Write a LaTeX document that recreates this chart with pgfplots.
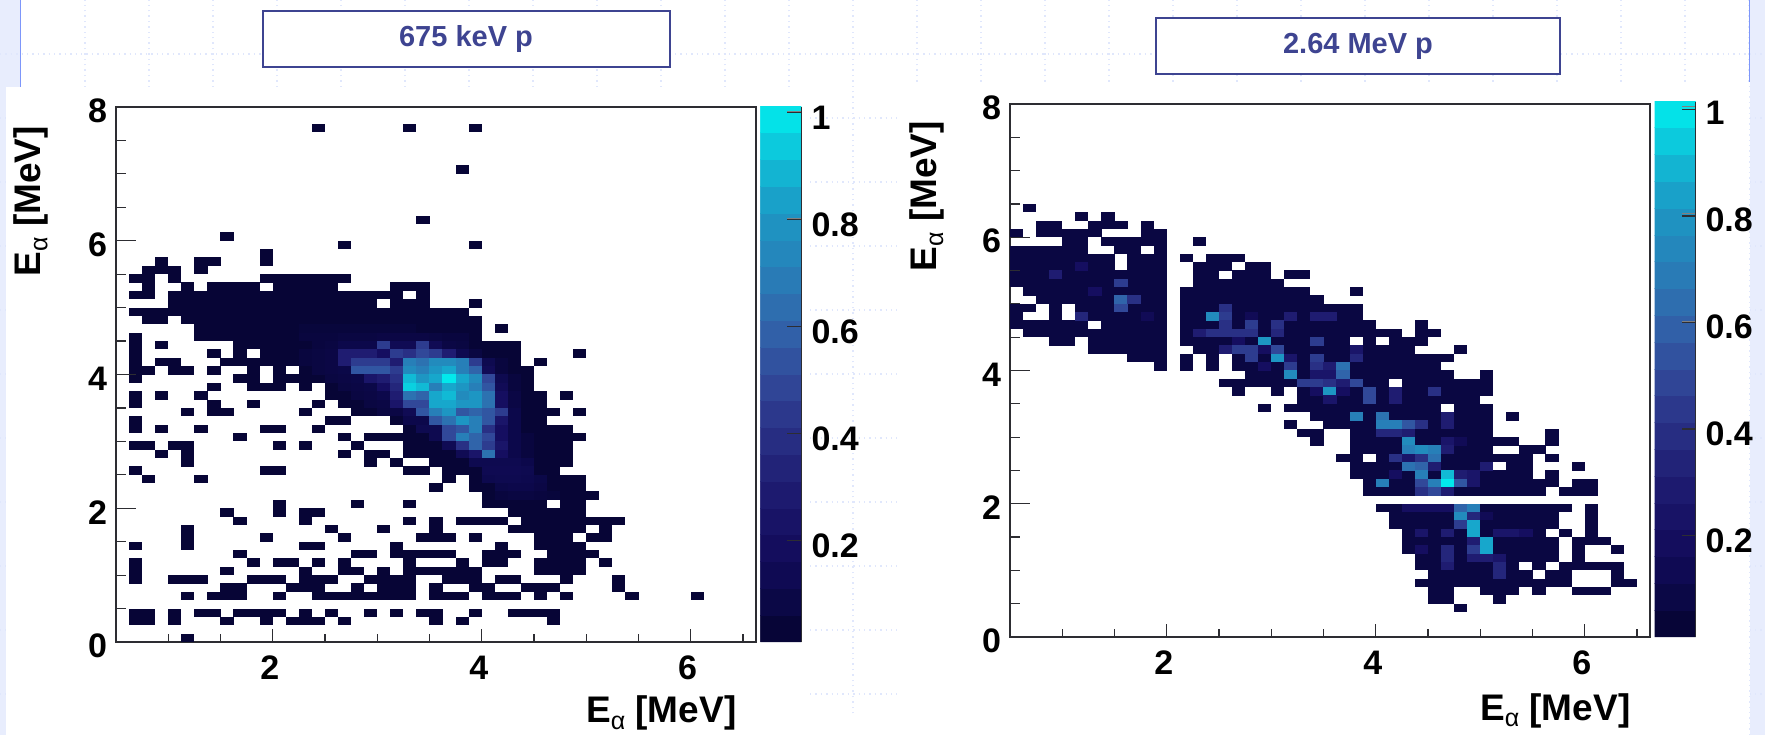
\documentclass[border=0pt]{standalone}
\usepackage{fontspec}
\setmainfont{Liberation Sans}
\usepackage{pgfplots}
\pgfplotsset{compat=1.18}
\definecolor{boxc}{RGB}{62,68,145}
\definecolor{pale}{RGB}{232,237,253}
\definecolor{gridc}{RGB}{224,231,252}
\definecolor{bluel}{RGB}{125,150,250}
\definecolor{axc}{RGB}{45,45,50}
\pgfdeclareplotmark{cell}{\pgfpathrectangle{\pgfpoint{-3.3pt}{-2.12pt}}{\pgfpoint{6.6pt}{4.24pt}}\pgfusepathqfill}
\newcommand{\tickfont}{\bfseries\fontsize{17}{17}\selectfont}
\newcommand{\Ealpha}{\bfseries\fontsize{18.5}{18.5}\selectfont E\raisebox{-.35ex}{\mdseries\fontsize{12.5}{12.5}\selectfont α} [MeV]}
\pgfplotsset{
  colormap={rootcm}{rgb255(0pt)=(5,4,48);rgb255(10pt)=(13,9,78);rgb255(20pt)=(22,15,98);rgb255(30pt)=(32,30,115);rgb255(40pt)=(42,50,135);rgb255(50pt)=(50,75,155);rgb255(60pt)=(48,103,172);rgb255(70pt)=(38,130,185);rgb255(80pt)=(28,152,196);rgb255(90pt)=(16,190,215);rgb255(100pt)=(0,238,238)},
  heat/.style={scale only axis, width=320pt, height=267pt, xmin=0.5, xmax=6.625, ymin=0, ymax=8,
    colormap name=rootcm, point meta min=0.01, point meta max=1.01,
    x filter/.expression={x*0.125+0.5625}, y filter/.expression={y*0.125+0.0625},
    xtick={2,4,6}, minor xtick={1,1.5,2.5,3,3.5,4.5,5,5.5,6.5},
    ytick={0,2,4,6,8}, yticklabels={0,2,4,6,8}, 
    tick pos=left, tick align=inside, major tick length=6.5pt, minor tick length=4pt,
    y tick style={draw=none}, x tick style={axc,line width=.6pt},
    axis line style={axc,line width=.8pt},
    /pgf/number format/assume math mode=true,
    ticklabel style={font=\tickfont,black},
    yticklabel style={xshift=-1pt,yshift=-2pt}, xticklabel style={yshift=-3.5pt,xshift=-1.5pt},
    clip=false,
    colorbar sampled,
    colorbar style={samples=21, scale only axis, width=20.5pt, height=268pt, at={(1.007,0)}, anchor=south west,
      ytick={0.2,0.4,0.6,0.8,1}, yticklabels={0.2,0.4,0.6,0.8,1}, xtick=\empty, ytick pos=right, yticklabel pos=right, tick align=inside,
      major tick length=7pt,
      axis x line=none, axis y line*=right, y axis line style={draw=none},
      yticklabel style={xshift=1.5pt,yshift=-3pt}, ylabel={}, xlabel={}},
  },
  ovl/.style={scale only axis, width=320pt, height=267pt, xmin=0.5, xmax=6.625, ymin=0, ymax=8,
    xtick=\empty, ytick={0,2,4,6,8}, minor ytick={0.5,1,1.5,2.5,3,3.5,4.5,5,5.5,6.5,7,7.5},
    yticklabels={}, axis line style={draw=none}, tick pos=left, tick align=inside,
    major tick length=10pt, minor tick length=5pt, tick style={axc,line width=.6pt}},
  cbticks/.style={scale only axis, width=20.5pt, xmin=0, xmax=1, ymin=0.01, ymax=1.01,
    xtick=\empty, ytick={0.2,0.4,0.6,0.8,1}, yticklabels={}, axis line style={draw=none},
    tick pos=right, tick align=inside, major tick length=7pt, tick style={axc,line width=.7pt}},
  cellp/.style={scatter, only marks, mark=cell, scatter/use mapped color={draw=none,fill=mapped color}},
}
\begin{document}
\begin{tikzpicture}[x=.5pt,y=.5pt]
\path[use as bounding box] (0,0) rectangle (1765,735);
\fill[white] (0,0) rectangle (1765,735);
\fill[pale] (0,647) rectangle (20,735);
\fill[pale] (0,0) rectangle (6,648);
\fill[pale] (1750,0) rectangle (1765,735);
\foreach \xx in {85,149,...,1765} {\draw[gridc,line width=.7pt,dotted] (\xx,0) -- (\xx,735);}
\foreach \yy in {41,105,...,681} {\draw[gridc,line width=.7pt,dotted] (0,\yy) -- (1765,\yy);}
\fill[white] (6,0) rectangle (806,648);
\fill[white] (897,0) rectangle (1749,653);
\fill[white] (806,0) rectangle (897,20);
\draw[bluel,line width=.9pt] (20.5,648) -- (20.5,735);
\draw[bluel,line width=.9pt] (1749.5,653) -- (1749.5,735);
\draw[boxc,line width=.75pt,fill=white] (263,724) rectangle (670,668);
\draw[boxc,line width=.75pt,fill=white] (1156,717) rectangle (1560,661);
\node[text=boxc,font=\bfseries\fontsize{14.5}{14.5}\selectfont] at (466,696) {675 keV p};
\node[text=boxc,font=\bfseries\fontsize{14.5}{14.5}\selectfont] at (1358,689) {2.64 MeV p};

\begin{axis}[heat, at={(58pt,46.5pt)}, anchor=south west, width=320pt, height=267.5pt,
  xlabel={\Ealpha}, ylabel={\Ealpha},
  every axis x label/.style={at={(axis description cs:0.852,-0.132)},anchor=center},
  every axis y label/.style={at={(axis description cs:-0.133,0.824)},rotate=90,anchor=center}]
\addplot[cellp, point meta=0.03] coordinates {
(15,61)(22,61)(27,61)
(26,56)
(23,50)
(8,48)
(17,47)(27,47)
(11,46)
(3,45)(6,45)(7,45)(11,45)
(2,44)(3,44)(4,44)(6,44)
(1,43)(2,43)(4,43)(11,43)(12,43)(13,43)(14,43)(15,43)(16,43)(17,43)
(2,42)(5,42)(7,42)(8,42)(9,42)(10,42)(12,42)(13,42)(14,42)(15,42)(16,42)(21,42)(22,42)(23,42)
(1,41)(2,41)(4,41)(5,41)(6,41)(7,41)(8,41)(9,41)(10,41)(11,41)(12,41)(13,41)(14,41)(15,41)(16,41)(17,41)(18,41)(19,41)(20,41)(21,41)(23,41)
(4,40)(5,40)(6,40)(7,40)(8,40)(9,40)(10,40)(11,40)(12,40)(13,40)(14,40)(15,40)(16,40)(17,40)(18,40)(19,40)(21,40)(22,40)(23,40)(27,40)
(1,39)(2,39)(3,39)(4,39)(5,39)(6,39)(7,39)(8,39)(9,39)(10,39)(11,39)(12,39)(13,39)(14,39)(15,39)(16,39)(17,39)(18,39)(19,39)(20,39)(21,39)(22,39)(23,39)(24,39)(25,39)(26,39)
(2,38)(3,38)(5,38)(6,38)(7,38)(8,38)(9,38)(10,38)(11,38)(12,38)(13,38)(14,38)(15,38)(16,38)(17,38)(18,38)(19,38)(20,38)(21,38)(22,38)(23,38)(24,38)(25,38)(26,38)(27,38)
(6,37)(7,37)(8,37)(9,37)(10,37)(11,37)(12,37)(13,37)(14,37)(15,37)(16,37)(17,37)(18,37)(19,37)(20,37)(21,37)(22,37)(23,37)(24,37)(25,37)(26,37)(27,37)(29,37)
(1,36)(6,36)(7,36)(8,36)(9,36)(10,36)(11,36)(12,36)(13,36)(14,36)(15,36)(16,36)(17,36)(18,36)(19,36)(20,36)(21,36)(22,36)(23,36)(24,36)(25,36)(26,36)(27,36)
(1,35)(3,35)(9,35)(10,35)(11,35)(12,35)(13,35)(14,35)(15,35)(16,35)(17,35)(18,35)(19,35)(20,35)(21,35)(22,35)(23,35)(24,35)(25,35)(26,35)(27,35)(28,35)(29,35)(30,35)
(1,34)(7,34)(9,34)(11,34)(12,34)(13,34)(14,34)(15,34)(16,34)(17,34)(18,34)(19,34)(20,34)(21,34)(22,34)(23,34)(24,34)(25,34)(26,34)(27,34)(28,34)(29,34)(30,34)(35,34)
(1,33)(3,33)(4,33)(8,33)(9,33)(10,33)(11,33)(12,33)(13,33)(14,33)(15,33)(16,33)(17,33)(18,33)(19,33)(20,33)(21,33)(22,33)(23,33)(24,33)(25,33)(26,33)(27,33)(28,33)(29,33)(30,33)(32,33)
(1,32)(2,32)(4,32)(5,32)(7,32)(10,32)(12,32)(14,32)(15,32)(16,32)(17,32)(18,32)(19,32)(20,32)(21,32)(22,32)(23,32)(24,32)(25,32)(26,32)(27,32)(28,32)(29,32)(30,32)(31,32)
(1,31)(9,31)(10,31)(12,31)(13,31)(14,31)(15,31)(16,31)(17,31)(18,31)(19,31)(20,31)(21,31)(22,31)(23,31)(24,31)(25,31)(26,31)(27,31)(28,31)(29,31)(30,31)(31,31)
(7,30)(10,30)(11,30)(12,30)(14,30)(16,30)(17,30)(18,30)(19,30)(20,30)(21,30)(22,30)(23,30)(24,30)(25,30)(26,30)(27,30)(28,30)(29,30)(30,30)(31,30)
(1,29)(3,29)(6,29)(16,29)(17,29)(18,29)(19,29)(20,29)(21,29)(22,29)(23,29)(24,29)(25,29)(26,29)(27,29)(28,29)(29,29)(30,29)(31,29)(32,29)(34,29)
(1,28)(7,28)(10,28)(15,28)(17,28)(18,28)(19,28)(20,28)(21,28)(22,28)(23,28)(24,28)(25,28)(26,28)(27,28)(28,28)(29,28)(30,28)(31,28)(32,28)
(5,27)(7,27)(8,27)(14,27)(18,27)(19,27)(20,27)(21,27)(22,27)(23,27)(24,27)(25,27)(26,27)(27,27)(28,27)(29,27)(30,27)(31,27)(32,27)(33,27)(35,27)
(1,26)(16,26)(17,26)(21,26)(22,26)(23,26)(24,26)(25,26)(26,26)(27,26)(28,26)(29,26)(30,26)(31,26)(32,26)
(1,25)(3,25)(6,25)(11,25)(12,25)(15,25)(22,25)(23,25)(24,25)(25,25)(26,25)(27,25)(28,25)(29,25)(30,25)(31,25)(32,25)(33,25)(34,25)
(9,24)(17,24)(19,24)(20,24)(21,24)(22,24)(23,24)(24,24)(25,24)(26,24)(27,24)(28,24)(29,24)(30,24)(31,24)(32,24)(33,24)(34,24)(35,24)
(1,23)(2,23)(4,23)(5,23)(12,23)(14,23)(18,23)(22,23)(23,23)(24,23)(25,23)(26,23)(27,23)(28,23)(29,23)(30,23)(31,23)(32,23)(33,23)(34,23)
(3,22)(5,22)(17,22)(19,22)(20,22)(22,22)(23,22)(24,22)(25,22)(26,22)(27,22)(28,22)(29,22)(30,22)(31,22)(32,22)(33,22)(34,22)
(5,21)(19,21)(21,21)(24,21)(25,21)(26,21)(27,21)(28,21)(29,21)(30,21)(31,21)(32,21)(33,21)(34,21)
(1,20)(11,20)(12,20)(22,20)(23,20)(25,20)(26,20)(27,20)(28,20)(29,20)(30,20)(31,20)(32,20)(33,20)
(2,19)(6,19)(25,19)(27,19)(28,19)(29,19)(30,19)(31,19)(32,19)(33,19)(34,19)(35,19)
(24,18)(27,18)(28,18)(29,18)(30,18)(31,18)(32,18)(33,18)(34,18)(35,18)
(28,17)(29,17)(30,17)(31,17)(32,17)(33,17)(34,17)(35,17)(36,17)
(12,16)(18,16)(22,16)(28,16)(29,16)(30,16)(31,16)(32,16)(34,16)(35,16)
(8,15)(12,15)(14,15)(15,15)(30,15)(31,15)(32,15)(33,15)(34,15)(35,15)
(9,14)(14,14)(22,14)(24,14)(26,14)(27,14)(28,14)(29,14)(31,14)(32,14)(33,14)(34,14)(35,14)(36,14)(37,14)(38,14)
(5,13)(16,13)(20,13)(24,13)(30,13)(31,13)(32,13)(33,13)(34,13)(35,13)(37,13)
(5,12)(11,12)(17,12)(23,12)(24,12)(25,12)(27,12)(32,12)(33,12)(34,12)(36,12)(37,12)
(1,11)(5,11)(14,11)(15,11)(21,11)(29,11)(32,11)(33,11)(34,11)(35,11)
(9,10)(18,10)(19,10)(21,10)(22,10)(23,10)(24,10)(25,10)(28,10)(29,10)(30,10)(33,10)(34,10)(35,10)(36,10)
(1,9)(10,9)(12,9)(13,9)(15,9)(17,9)(22,9)(26,9)(28,9)(29,9)(32,9)(33,9)(34,9)(35,9)(37,9)
(1,8)(8,8)(14,8)(17,8)(18,8)(20,8)(22,8)(23,8)(24,8)(25,8)(26,8)(27,8)(32,8)(33,8)(34,8)(35,8)
(1,7)(4,7)(5,7)(6,7)(10,7)(11,7)(12,7)(14,7)(15,7)(16,7)(19,7)(20,7)(21,7)(22,7)(25,7)(26,7)(27,7)(29,7)(30,7)(34,7)(38,7)
(8,6)(9,6)(13,6)(14,6)(15,6)(18,6)(20,6)(21,6)(22,6)(24,6)(27,6)(28,6)(31,6)(32,6)(33,6)(38,6)
(5,5)(7,5)(8,5)(9,5)(12,5)(15,5)(16,5)(17,5)(18,5)(19,5)(20,5)(21,5)(22,5)(24,5)(25,5)(26,5)(28,5)(29,5)(30,5)(32,5)(34,5)(39,5)(44,5)
(1,3)(2,3)(4,3)(6,3)(7,3)(9,3)(10,3)(11,3)(12,3)(14,3)(16,3)(19,3)(21,3)(23,3)(24,3)(27,3)(30,3)(31,3)(32,3)(33,3)
(1,2)(2,2)(4,2)(8,2)(11,2)(13,2)(14,2)(15,2)(17,2)(24,2)(26,2)(33,2)
(5,0)
};
\addplot[cellp, point meta=explicit] coordinates {
(14,37)[.05](15,37)[.05](16,37)[.05](17,37)[.05](18,37)[.05](19,37)[.05](20,37)[.05](21,37)[.05](22,37)[.05]
(14,36)[.06](15,36)[.06](16,36)[.06](17,36)[.07](18,36)[.07](19,36)[.07](20,36)[.08](21,36)[.08](22,36)[.08](23,36)[.08](24,36)[.07](25,36)[.06](26,36)[.06]
(15,35)[.06](16,35)[.07](17,35)[.1](18,35)[.1](19,35)[.1](20,35)[.45](21,35)[.14](22,35)[.14](23,35)[.45](24,35)[.14](25,35)[.08](26,35)[.07]
(14,34)[.06](15,34)[.07](16,34)[.08](17,34)[.3](18,34)[.3](19,34)[.3](20,34)[.2](21,34)[.45](22,34)[.4](23,34)[.5](24,34)[.45](25,34)[.3](26,34)[.12](27,34)[.07]
(14,33)[.06](15,33)[.07](16,33)[.08](17,33)[.3](18,33)[.45](19,33)[.45](20,33)[.45](21,33)[.3](22,33)[.7](23,33)[.65](24,33)[.75](25,33)[.75](26,33)[.7](27,33)[.45](28,33)[.12](29,33)[.06]
(15,32)[.07](16,32)[.08](17,32)[.09](18,32)[.55](19,32)[.55](20,32)[.55](21,32)[.45](22,32)[.75](23,32)[.7](24,32)[.8](25,32)[.85](26,32)[.7](27,32)[.6](28,32)[.15](29,32)[.06]
(16,31)[.07](17,31)[.08](18,31)[.09](19,31)[.25](20,31)[.3](21,31)[.4](22,31)[.9](23,31)[.8](24,31)[.85](25,31)[1](26,31)[.85](27,31)[.75](28,31)[.5](29,31)[.12](30,31)[.06]
(17,30)[.07](18,30)[.08](19,30)[.09](20,30)[.2](21,30)[.35](22,30)[.95](23,30)[.9](24,30)[.7](25,30)[.85](26,30)[.8](27,30)[.7](28,30)[.55](29,30)[.15](30,30)[.06]
(18,29)[.07](19,29)[.08](20,29)[.1](21,29)[.3](22,29)[.65](23,29)[.6](24,29)[.85](25,29)[.9](26,29)[.75](27,29)[.8](28,29)[.65](29,29)[.2](30,29)[.08]
(19,28)[.07](20,28)[.08](21,28)[.25](22,28)[.5](23,28)[.5](24,28)[.85](25,28)[.85](26,28)[.8](27,28)[.8](28,28)[.65](29,28)[.2](30,28)[.08]
(20,27)[.07](21,27)[.08](22,27)[.14](23,27)[.55](24,27)[.7](25,27)[.8](26,27)[.55](27,27)[.6](28,27)[.55](29,27)[.45](30,27)[.1]
(22,26)[.1](23,26)[.1](24,26)[.55](25,26)[.65](26,26)[.8](27,26)[.7](28,26)[.55](29,26)[.25](30,26)[.1]
(23,25)[.12](24,25)[.12](25,25)[.5](26,25)[.55](27,25)[.7](28,25)[.4](29,25)[.2](30,25)[.1]
(24,24)[.12](25,24)[.5](26,24)[.7](27,24)[.6](28,24)[.5](29,24)[.2](30,24)[.1](31,24)[.06]
(25,23)[.14](26,23)[.4](27,23)[.6](28,23)[.45](29,23)[.25](30,23)[.1](31,23)[.06]
(26,22)[.14](27,22)[.25](28,22)[.65](29,22)[.2](30,22)[.1](31,22)[.06]
(27,21)[.12](28,21)[.12](29,21)[.12](30,21)[.12](31,21)[.1]
(28,20)[.13](29,20)[.13](30,20)[.13](31,20)[.12]
(28,19)[.11](29,19)[.12](30,19)[.12](31,19)[.11](32,19)[.09]
(29,18)[.09](30,18)[.1](31,18)[.1](32,18)[.08]
(29,17)[.06](30,17)[.07](31,17)[.07](32,17)[.06](33,17)[.05]
};
\end{axis}
\begin{axis}[ovl, at={(58pt,46.5pt)}, anchor=south west, width=320pt, height=267.5pt]
\end{axis}
\begin{axis}[cbticks, at={(380.24pt,46.5pt)}, anchor=south west, height=267.5pt]
\end{axis}
\draw[axc,line width=.6pt] (801.5,93) -- (801.5,628);

\begin{axis}[heat, at={(505pt,49pt)}, anchor=south west, width=320pt, height=266.5pt,
  xlabel={\Ealpha}, ylabel={\Ealpha},
  every axis x label/.style={at={(axis description cs:0.852,-0.138)},anchor=center},
  every axis y label/.style={at={(axis description cs:-0.13,0.827)},rotate=90,anchor=center}]
\addplot[cellp, point meta=0.07] coordinates {
(1,51)
(5,50)(7,50)
(2,49)(3,49)(6,49)(7,49)(8,49)(10,49)
(0,48)(2,48)(3,48)(4,48)(5,48)(6,48)(10,48)(11,48)
(4,47)(5,47)(7,47)(8,47)(9,47)(10,47)(11,47)(14,47)
(0,46)(1,46)(2,46)(3,46)(4,46)(5,46)(8,46)(9,46)(11,46)
(0,45)(1,45)(2,45)(3,45)(4,45)(5,45)(6,45)(7,45)(9,45)(10,45)(11,45)(13,45)(15,45)(16,45)(17,45)
(0,44)(1,44)(2,44)(3,44)(4,44)(5,44)(6,44)(7,44)(9,44)(10,44)(11,44)(14,44)(15,44)(16,44)(18,44)(19,44)
(0,43)(1,43)(2,43)(3,43)(4,43)(5,43)(6,43)(7,43)(8,43)(9,43)(10,43)(11,43)(14,43)(15,43)(17,43)(18,43)(19,43)(21,43)(22,43)
(0,42)(1,42)(2,42)(3,42)(4,42)(5,42)(6,42)(7,42)(8,42)(9,42)(10,42)(11,42)(14,42)(15,42)(16,42)(17,42)(18,42)(19,42)(20,42)
(1,41)(2,41)(3,41)(4,41)(5,41)(6,41)(7,41)(8,41)(9,41)(10,41)(11,41)(13,41)(14,41)(15,41)(16,41)(17,41)(18,41)(19,41)(20,41)(21,41)(22,41)(26,41)
(2,40)(3,40)(4,40)(5,40)(6,40)(7,40)(8,40)(9,40)(10,40)(11,40)(13,40)(14,40)(15,40)(16,40)(17,40)(18,40)(19,40)(20,40)(21,40)(22,40)(23,40)
(0,39)(1,39)(3,39)(5,39)(6,39)(7,39)(8,39)(9,39)(10,39)(11,39)(13,39)(14,39)(15,39)(16,39)(17,39)(18,39)(19,39)(20,39)(21,39)(22,39)(23,39)(24,39)(25,39)(26,39)
(0,38)(3,38)(5,38)(6,38)(7,38)(8,38)(9,38)(10,38)(11,38)(13,38)(14,38)(15,38)(16,38)(17,38)(18,38)(19,38)(20,38)(21,38)(22,38)(23,38)(24,38)(25,38)(26,38)
(0,37)(1,37)(2,37)(3,37)(4,37)(5,37)(7,37)(8,37)(9,37)(10,37)(11,37)(13,37)(14,37)(15,37)(16,37)(17,37)(18,37)(19,37)(20,37)(21,37)(22,37)(23,37)(24,37)(25,37)(26,37)(27,37)(31,37)
(1,36)(2,36)(3,36)(4,36)(5,36)(6,36)(7,36)(8,36)(9,36)(10,36)(11,36)(13,36)(14,36)(15,36)(16,36)(17,36)(18,36)(19,36)(20,36)(21,36)(22,36)(23,36)(24,36)(25,36)(26,36)(27,36)(28,36)(29,36)(31,36)(32,36)
(3,35)(4,35)(6,35)(7,35)(8,35)(9,35)(10,35)(11,35)(13,35)(14,35)(15,35)(16,35)(17,35)(18,35)(19,35)(20,35)(21,35)(22,35)(23,35)(24,35)(25,35)(27,35)(29,35)(30,35)(31,35)
(6,34)(7,34)(8,34)(9,34)(10,34)(11,34)(14,34)(15,34)(16,34)(17,34)(18,34)(19,34)(20,34)(21,34)(22,34)(23,34)(24,34)(25,34)(26,34)(27,34)(28,34)(29,34)(30,34)(34,34)
(9,33)(10,33)(11,33)(13,33)(15,33)(17,33)(18,33)(19,33)(20,33)(21,33)(22,33)(23,33)(24,33)(25,33)(26,33)(27,33)(28,33)(29,33)(30,33)(31,33)(32,33)(33,33)
(11,32)(13,32)(15,32)(17,32)(18,32)(19,32)(20,32)(21,32)(22,32)(23,32)(24,32)(25,32)(26,32)(27,32)(28,32)(29,32)(30,32)(31,32)(32,32)
(18,31)(19,31)(20,31)(21,31)(22,31)(23,31)(24,31)(25,31)(26,31)(27,31)(28,31)(29,31)(30,31)(31,31)(32,31)(33,31)(36,31)
(16,30)(17,30)(18,30)(19,30)(20,30)(21,30)(22,30)(23,30)(24,30)(25,30)(26,30)(27,30)(28,30)(30,30)(31,30)(32,30)(33,30)(34,30)(35,30)(36,30)
(17,29)(20,29)(22,29)(23,29)(24,29)(25,29)(26,29)(27,29)(28,29)(29,29)(30,29)(31,29)(32,29)(33,29)(34,29)(35,29)(36,29)
(22,28)(23,28)(24,28)(25,28)(26,28)(27,28)(28,28)(29,28)(30,28)(31,28)(32,28)(33,28)(34,28)(35,28)
(19,27)(21,27)(22,27)(23,27)(24,27)(25,27)(26,27)(27,27)(28,27)(29,27)(30,27)(31,27)(32,27)(34,27)(35,27)(36,27)
(23,26)(24,26)(25,26)(26,26)(27,26)(28,26)(29,26)(30,26)(31,26)(32,26)(33,26)(34,26)(35,26)(36,26)(38,26)
(21,25)(24,25)(25,25)(26,25)(27,25)(28,25)(29,25)(30,25)(31,25)(32,25)(33,25)(34,25)(35,25)(36,25)
(22,24)(23,24)(26,24)(27,24)(28,24)(29,24)(30,24)(31,24)(32,24)(33,24)(34,24)(35,24)(36,24)(41,24)
(23,23)(26,23)(27,23)(28,23)(29,23)(30,23)(31,23)(32,23)(33,23)(34,23)(35,23)(36,23)(37,23)(38,23)(41,23)
(26,22)(27,22)(28,22)(29,22)(30,22)(31,22)(32,22)(33,22)(34,22)(35,22)(36,22)(39,22)(40,22)
(25,21)(26,21)(28,21)(29,21)(30,21)(31,21)(32,21)(33,21)(34,21)(35,21)(36,21)(37,21)(38,21)(39,21)(41,21)
(26,20)(27,20)(28,20)(29,20)(30,20)(31,20)(32,20)(33,20)(34,20)(35,20)(36,20)(38,20)(39,20)(43,20)
(26,19)(27,19)(28,19)(29,19)(30,19)(31,19)(32,19)(33,19)(34,19)(35,19)(36,19)(37,19)(38,19)(39,19)(41,19)
(27,18)(28,18)(29,18)(30,18)(31,18)(32,18)(33,18)(34,18)(35,18)(36,18)(37,18)(38,18)(39,18)(40,18)(41,18)(43,18)(44,18)
(27,17)(28,17)(29,17)(30,17)(31,17)(32,17)(33,17)(34,17)(35,17)(36,17)(37,17)(38,17)(39,17)(40,17)(42,17)(43,17)(44,17)
(28,15)(29,15)(30,15)(31,15)(32,15)(33,15)(34,15)(35,15)(36,15)(37,15)(38,15)(39,15)(40,15)(41,15)(42,15)(44,15)
(29,14)(30,14)(31,14)(32,14)(33,14)(34,14)(35,14)(36,14)(37,14)(38,14)(39,14)(40,14)(41,14)(44,14)
(29,13)(30,13)(31,13)(32,13)(33,13)(34,13)(35,13)(36,13)(37,13)(38,13)(39,13)(40,13)(41,13)(44,13)
(30,12)(31,12)(32,12)(33,12)(34,12)(35,12)(36,12)(37,12)(38,12)(39,12)(40,12)(42,12)(44,12)
(30,11)(31,11)(32,11)(33,11)(34,11)(35,11)(36,11)(37,11)(38,11)(39,11)(40,11)(41,11)(43,11)(44,11)(45,11)
(30,10)(31,10)(32,10)(33,10)(34,10)(35,10)(36,10)(37,10)(38,10)(39,10)(40,10)(41,10)(43,10)(46,10)
(31,9)(32,9)(33,9)(34,9)(35,9)(36,9)(37,9)(38,9)(39,9)(40,9)(41,9)(43,9)
(31,8)(32,8)(33,8)(34,8)(35,8)(36,8)(37,8)(38,8)(40,8)(42,8)(43,8)(44,8)(45,8)(46,8)
(32,7)(33,7)(34,7)(35,7)(36,7)(37,7)(38,7)(39,7)(41,7)(42,7)(46,7)
(31,6)(32,6)(33,6)(34,6)(35,6)(36,6)(37,6)(38,6)(39,6)(40,6)(41,6)(42,6)(46,6)(47,6)
(32,5)(33,5)(36,5)(37,5)(38,5)(40,5)(43,5)(44,5)(45,5)
(32,4)(33,4)(37,4)
(34,3)
};
\addplot[cellp, point meta=explicit] coordinates {
(5,44)[.2](3,43)[.3](8,42)[.45](6,41)[.2](8,40)[.6](9,40)[.4](8,39)[.5](16,39)[.4]
(5,38)[.35](10,38)[.15](15,38)[.75](16,38)[.45](18,38)[.15](21,38)[.3](23,38)[.3](24,38)[.3]
(16,37)[.4](18,37)[.45](20,37)[.4]
(14,36)[.3](15,36)[.4](16,36)[.4](17,36)[.4](18,36)[.4](20,36)[.35]
(17,35)[.2](19,35)[.8](23,35)[.45]
(16,34)[.3](17,34)[.45](18,34)[.45](19,34)[.2](20,34)[.5](26,34)[.25]
(18,33)[.45](20,33)[.8](21,33)[.25](23,33)[.45](26,33)[.35]
(19,32)[.2](21,32)[.45](23,32)[.4](24,32)[.3](25,32)[.65]
(21,31)[.75](23,31)[.25](24,31)[.25](25,31)[.6]
(22,30)[.45](23,30)[.45](24,30)[.4](25,30)[.3](26,30)[.5]
(23,29)[.2](24,29)[.8](25,29)[.2](27,29)[.5](29,29)[.3](32,29)[.4]
(24,28)[.25](27,28)[.5](29,28)[.3]
(26,26)[.7](28,26)[.65](33,26)[.3]
(28,25)[.7](29,25)[.7](30,25)[.55](31,25)[.4](33,25)[.3]
(28,24)[.35](29,24)[.35](30,24)[.3]
(30,23)[.75](33,23)[.25](34,23)[.15]
(30,22)[.7](31,22)[.75](32,22)[.7](33,22)[.3]
(29,21)[.4](30,21)[.25](31,21)[.4](32,21)[.65]
(30,20)[.65](31,20)[.6](32,20)[.3](36,20)[.3]
(29,19)[.2](31,19)[.7](33,19)[.9](34,19)[.3](35,19)[.25]
(28,18)[.7](31,18)[.5](32,18)[.7](33,18)[1](34,18)[.55](35,18)[.25]
(31,17)[.4](32,17)[.5](33,17)[.3]
(30,15)[.2](31,15)[.2](32,15)[.2](33,15)[.2](34,15)[.6](35,15)[.7]
(34,14)[.75](35,14)[.35](36,14)[.15]
(34,13)[.45](35,13)[.85]
(31,12)[.25](33,12)[.3](35,12)[.85](37,12)[.25](38,12)[.25](39,12)[.2]
(35,11)[.3](36,11)[.85]
(31,10)[.2](33,10)[.35](35,10)[.45](36,10)[.85]
(33,9)[.35](35,9)[.3](36,9)[.3](37,9)[.25]
(33,8)[.3](37,8)[.35]
(37,7)[.35]
};
\end{axis}
\begin{axis}[ovl, at={(505pt,49pt)}, anchor=south west, width=320pt, height=266.5pt]
\end{axis}
\begin{axis}[cbticks, at={(827.24pt,49pt)}, anchor=south west, height=266.5pt]
\end{axis}
\draw[axc,line width=.6pt] (1695.5,98) -- (1695.5,633);
\end{tikzpicture}
\end{document}
